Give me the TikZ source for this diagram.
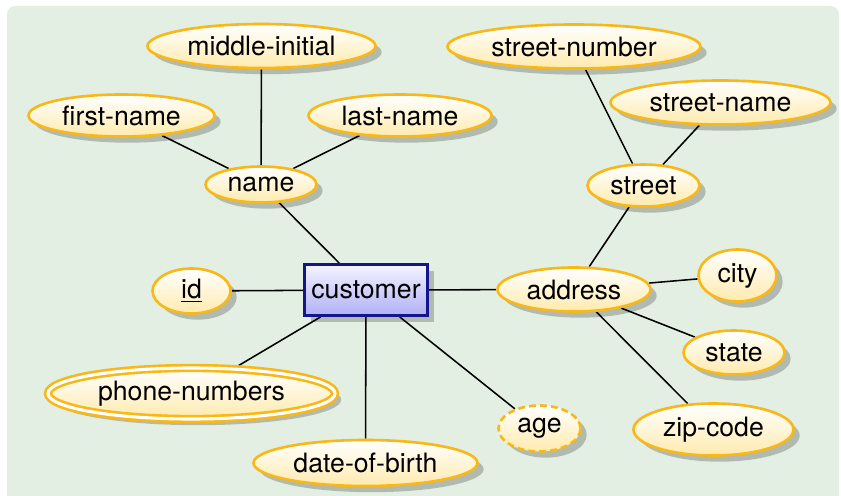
\documentclass[tikz,border=0pt]{standalone}
\usepackage{fontspec}
\setmainfont{TeX Gyre Heros}
\usetikzlibrary{shapes.geometric,shadows}
\definecolor{bggreen}{HTML}{E4EFE3}
\definecolor{attrborder}{HTML}{F9B815}
\definecolor{attrfill}{HTML}{FFEBAE}
\definecolor{entborder}{HTML}{14148C}
\definecolor{entfill}{HTML}{B0B0F6}
\definecolor{enttop}{HTML}{F4F4FF}
\pgfdeclarelayer{bg}
\pgfdeclarelayer{edges}
\pgfsetlayers{bg,edges,main}
\tikzset{
  base/.style={font=\fontsize{11.2}{13}\selectfont, inner sep=0pt,
    drop shadow={shadow xshift=2.6pt, shadow yshift=-2.6pt, fill=black, opacity=0.22}},
  entity/.style 2 args={base, rectangle, draw=entborder, line width=1.2pt,
    top color=enttop, bottom color=entfill,
    minimum width=#1*0.42pt, minimum height=#2*0.42pt},
  attr/.style 2 args={base, ellipse, draw=attrborder, line width=1.1pt,
    top color=white, bottom color=attrfill,
    minimum width=#1*0.42pt, minimum height=#2*0.42pt},
  multi/.style={double=white, double distance=1.3pt},
  derived/.style={dash pattern=on 2.9pt off 1.7pt},
  link/.style={line width=0.65pt, black},
}
\begin{document}
\begin{tikzpicture}[x=0.42pt, y=-0.42pt]
  \useasboundingbox (0,0) rectangle (841,496);
  \begin{pgfonlayer}{bg}
    \fill[bggreen, rounded corners=3.5pt] (7,6) rectangle (839,510);
  \end{pgfonlayer}

  % entity
  \node[entity={123}{51}] (customer) at (366,290) {customer};

  % attributes of customer
  \node[attr={78}{45}]   (id)      at (191.5,291)   {\underline{id}};
  \node[attr={111}{36}]  (name)    at (261,184.5)   {name};
  \node[attr={153}{44}]  (address) at (574,289.5)   {address};
  \node[attr={287}{51}, multi] (phone) at (191.5,393.5) {phone-numbers};
  \node[attr={224}{46}]  (dob)     at (365.5,463)   {date-of-birth};
  \node[attr={82}{46}, derived] (age) at (539.5,428.5) {age};

  % parts of name
  \node[attr={186}{42}]  (first)   at (121.5,115.5) {first-name};
  \node[attr={228}{44}]  (middle)  at (261.5,46)    {middle-initial};
  \node[attr={183}{42}]  (last)    at (400,115.5)   {last-name};

  % parts of address
  \node[attr={112}{42}]  (street)  at (643.5,185.5) {street};
  \node[attr={78}{52}]   (city)    at (737.5,275.5) {city};
  \node[attr={101}{44}]  (state)   at (734,352.5)   {state};
  \node[attr={160}{52}]  (zip)     at (713.5,429.5) {zip-code};

  % parts of street
  \node[attr={253}{44}]  (snumber) at (574,46.5)    {street-number};
  \node[attr={220}{44}]  (sname)   at (720.5,102.5) {street-name};

  \begin{pgfonlayer}{edges}
    \draw[link] (customer) -- (id);
    \draw[link] (customer) -- (name);
    \draw[link] (customer) -- (address);
    \draw[link] (customer) -- (phone);
    \draw[link] (customer) -- (dob);
    \draw[link] (customer) -- (age);
    \draw[link] (name) -- (first);
    \draw[link] (name) -- (middle);
    \draw[link] (name) -- (last);
    \draw[link] (address) -- (street);
    \draw[link] (address) -- (city);
    \draw[link] (address) -- (state);
    \draw[link] (address) -- (zip);
    \draw[link] (street) -- (snumber);
    \draw[link] (street) -- (sname);
  \end{pgfonlayer}
\end{tikzpicture}
\end{document}
